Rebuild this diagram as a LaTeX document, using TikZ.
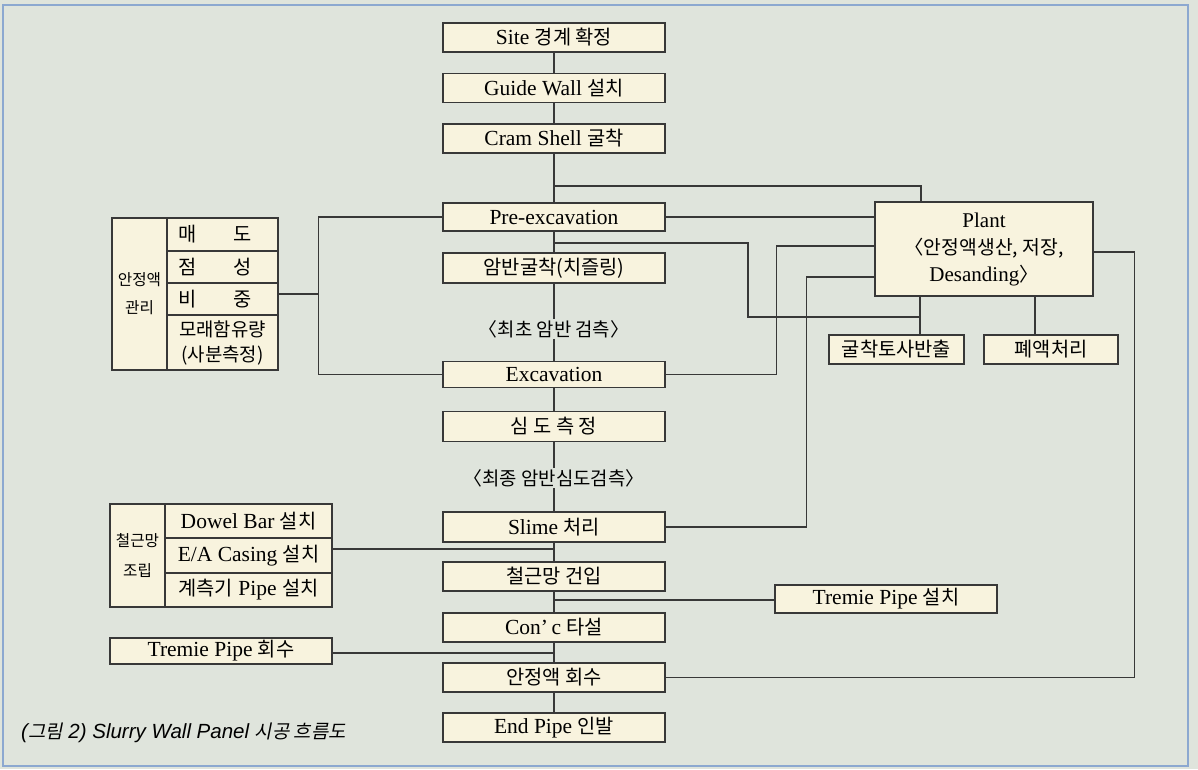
\documentclass[tikz,border=0pt]{standalone}
\usepackage{fontspec}
\setmainfont{Liberation Serif}
\newfontfamily\kr{Noto Sans CJK KR}[Scale=0.92]
\newfontfamily\krsl{Noto Sans CJK KR}[Scale=0.92,FakeSlant=0.2]
\newfontfamily\capsf{Liberation Sans}
\newcommand\K[1]{{\kr #1}}
\usetikzlibrary{calc}
\definecolor{bgc}{HTML}{DFE4DC}
\definecolor{boxc}{HTML}{F8F3DE}
\definecolor{linec}{HTML}{383838}
\definecolor{framec}{HTML}{8CA8D0}
\begin{document}
\begin{tikzpicture}[x=1pt,y=-1pt,
  every node/.style={font=\fontsize{21.5}{26}\selectfont, text=black},
  box/.style={draw=linec, fill=boxc, line width=1.2pt, inner sep=0pt, minimum height=29pt, align=center},
  mainbox/.style={box, minimum width=222pt},
  cell/.style={draw=linec, line width=1.2pt, inner sep=0pt, align=center},
  lbl/.style={inner sep=1pt},
  conn/.style={draw=linec, line width=1.1pt}]
\useasboundingbox (0,0) rectangle (1198,769);
\fill[bgc] (0,0) rectangle (1198,769);
\draw[framec, line width=1.3pt] (3,5) rectangle (1188,766);

% main column
\node[mainbox] (site) at (554,37.5) {Site \K{경계 확정}};
\node[mainbox] (guide) at (554,88) {Guide Wall \K{설치}};
\node[mainbox] (cram) at (554,138.5) {Cram Shell \K{굴착}};
\node[mainbox, minimum height=28pt] (pre) at (554,217) {Pre-excavation};
\node[mainbox, minimum height=30pt] (rock) at (554,268) {\K{암반굴착(치즐링)}};
\node[lbl, font=\fontsize{20.5}{26}\selectfont] (lab1) at (554,329) {\K{〈최초 암반 검측〉}};
\node[mainbox, minimum height=26pt] (exc) at (554,374.5) {Excavation};
\node[mainbox, minimum height=30pt] (depth) at (554,426.5) {\K{심 도 측 정}};
\node[lbl, font=\fontsize{20.5}{26}\selectfont] (lab2) at (554,478) {\K{〈최종 암반심도검측〉}};
\node[mainbox, minimum height=30pt] (slime) at (554,527) {Slime \K{처리}};
\node[mainbox] (rebar) at (554,576.5) {\K{철근망 건입}};
\node[mainbox] (conc) at (554,627.5) {Con’\,c \K{타설}};
\node[mainbox] (recov) at (554,677.5) {\K{안정액 회수}};
\node[mainbox] (endp) at (554,727.5) {End Pipe \K{인발}};

% right side
\node[box, minimum width=218pt, minimum height=94pt, font=\fontsize{21}{27}\selectfont] (plant) at (984,249) {Plant\\\K{〈안정액생산, 저장,}\\Desanding\K{〉}};
\node[box, minimum width=135pt] (soil) at (896.5,349.5) {\K{굴착토사반출}};
\node[box, minimum width=134pt] (waste) at (1051,349.5) {\K{폐액처리}};
\node[box, minimum width=222pt, minimum height=28pt] (trin) at (886,599) {Tremie Pipe \K{설치}};

% left group 1
\node[cell, fill=boxc, minimum width=166pt, minimum height=152pt] (g1) at (195,294) {};
\node[cell, minimum width=55pt, minimum height=152pt, font=\fontsize{17}{28}\selectfont] (g1l) at (139.5,294) {\K{안정액}\\\K{관리}};
\node[cell, minimum width=111pt, minimum height=33pt] (r1) at (222.5,234.5) {\makebox[88pt][l]{\kr\makebox[73pt][s]{매\hfill 도}}};
\node[cell, minimum width=111pt, minimum height=32pt] (r2) at (222.5,267) {\makebox[88pt][l]{\kr\makebox[73pt][s]{점\hfill 성}}};
\node[cell, minimum width=111pt, minimum height=32pt] (r3) at (222.5,299) {\makebox[88pt][l]{\kr\makebox[73pt][s]{비\hfill 중}}};
\node[cell, minimum width=111pt, minimum height=55pt, font=\fontsize{20.5}{25}\selectfont] (r4) at (222.5,342.5) {\K{모래함유량}\\\K{(사분측정)}};

% left group 2
\node[cell, fill=boxc, minimum width=222pt, minimum height=103pt] (g2) at (221,555.5) {};
\node[cell, minimum width=55pt, minimum height=103pt, font=\fontsize{17}{30}\selectfont] (g2l) at (137.5,555.5) {\K{철근망}\\\K{조립}};
\node[cell, minimum width=167pt, minimum height=34pt] (s1) at (248.5,521) {Dowel Bar \K{설치}};
\node[cell, minimum width=167pt, minimum height=35pt] (s2) at (248.5,555.5) {E/A Casing \K{설치}};
\node[cell, minimum width=167pt, minimum height=34pt] (s3) at (248.5,590) {\K{계측기} Pipe \K{설치}};
\node[box, minimum width=222pt, minimum height=26pt] (trec) at (221,651) {Tremie Pipe \K{회수}};

% caption
\node[anchor=west, inner sep=0pt, font=\fontsize{20.5}{22}\selectfont] (cap) at (21,733) {{\capsf\itshape (}{\krsl 그림}{\capsf\itshape\ 2) Slurry Wall Panel }{\krsl 시공 흐름도}};

% junction coordinates
\coordinate (j1) at (554,186);
\coordinate (j3) at (554,243);
\coordinate (c3) at (748,317);
\coordinate (j9) at (554,600);
\coordinate (j11) at (554,549);
\coordinate (j12) at (554,653);
\coordinate (k) at ([xshift=-64pt]plant.south);
\coordinate (w) at ([xshift=51pt]plant.south);

% connectors
\draw[conn] (site) -- (guide) -- (cram) -- (pre) -- (rock) -- (lab1) -- (exc) -- (depth) -- (lab2) -- (slime) -- (rebar) -- (conc) -- (recov) -- (endp);
\draw[conn] (j1) -| ([xshift=-63pt]plant.north);
\draw[conn] (pre.east) -- (pre.east -| plant.west);
\draw[conn] (j3) -| (c3) -- (c3 -| k);
\draw[conn] (k) -- (k |- soil.north);
\draw[conn] (w) -- (w |- waste.north);
\draw[conn] ([yshift=3pt]plant.west) -- ++(-98,0) |- (exc.east);
\draw[conn] ([yshift=-28pt]plant.west) -- ++(-68,0) |- (slime.east);
\draw[conn] ([yshift=-3pt]plant.east) -- ++(41,0) |- (recov.east);
\draw[conn] (j9) -- (j9 -| trin.west);
\draw[conn] (g1.east) -- ++(40,0) coordinate (b1);
\draw[conn] (pre.west) -| (b1) |- (exc.west);
\draw[conn] (j11) -- (j11 -| g2.east);
\draw[conn] (j12) -- (j12 -| trec.east);
\end{tikzpicture}
\end{document}
